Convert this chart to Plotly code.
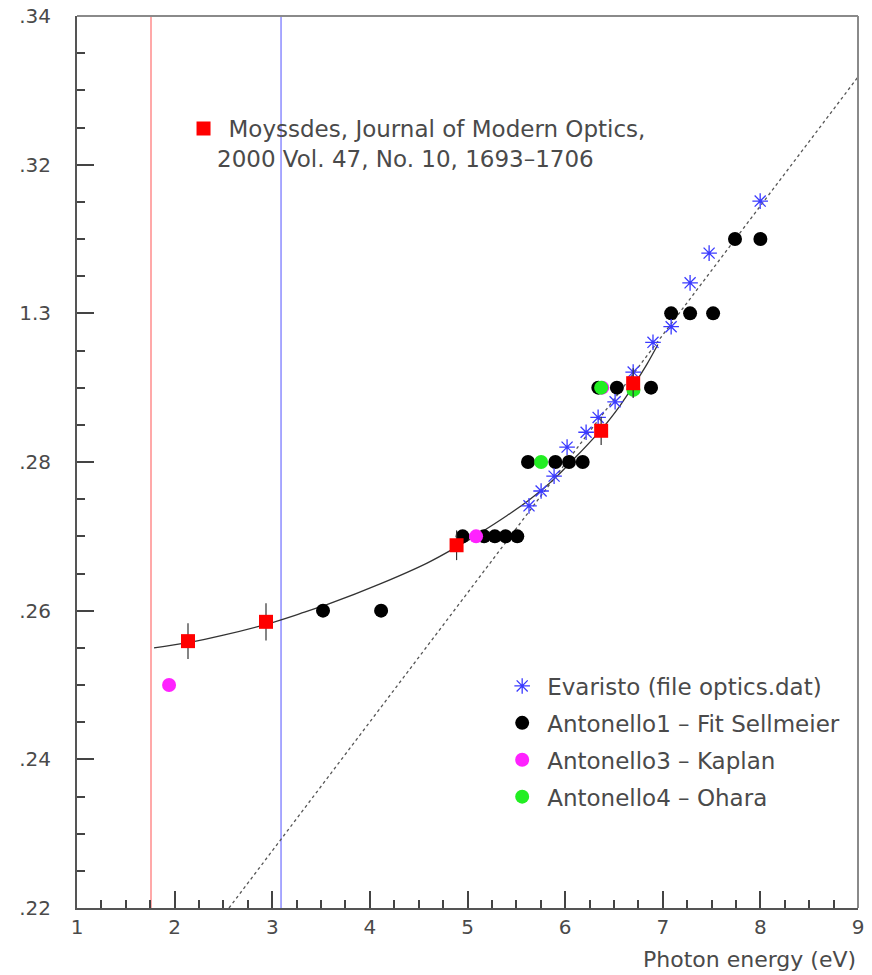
import plotly.graph_objects as go

# ---------------- data ----------------
moy_x = [2.137, 2.936, 4.888, 6.369, 6.697]
moy_y = [1.2559, 1.2585, 1.2688, 1.2842, 1.2906]
moy_err = [0.0024, 0.0025, 0.0020, 0.0019, 0.0020]

evar_x = [5.63, 5.754, 5.887, 6.02, 6.215, 6.338, 6.512, 6.697, 6.90, 7.086, 7.28, 7.475, 7.998]
evar_y = [1.2741, 1.2761, 1.2781, 1.2820, 1.2840, 1.2860, 1.2881, 1.2921, 1.2961, 1.2982, 1.3041, 1.3081, 1.3151]

ant1_x = [3.52, 4.115, 4.95, 5.17, 5.28, 5.39, 5.51, 5.62, 5.90, 6.04, 6.18,
          6.34, 6.53, 6.88, 7.086, 7.28, 7.516, 7.74, 8.0]
ant1_y = [1.26, 1.26, 1.27, 1.27, 1.27, 1.27, 1.27, 1.28, 1.28, 1.28, 1.28,
          1.29, 1.29, 1.29, 1.30, 1.30, 1.30, 1.31, 1.31]

ant3_x = [1.943, 5.088, 6.38]
ant3_y = [1.25, 1.27, 1.29]

ant4_x = [5.754, 6.369, 6.70]
ant4_y = [1.28, 1.29, 1.2897]

fit_x = [1.789, 2.137, 2.5, 2.947, 3.285, 3.6, 4.105, 4.586, 4.893, 5.098, 5.406,
         5.621, 5.775, 5.918, 6.082, 6.379, 6.563, 6.697, 6.84, 6.95]
fit_y = [1.2550, 1.2557, 1.2567, 1.2582, 1.2596, 1.2610, 1.2636, 1.2664, 1.2686, 1.2702, 1.2728,
         1.2748, 1.2764, 1.2781, 1.2803, 1.2845, 1.2876, 1.2902, 1.2932, 1.2958]

lin_x = [2.557, 9.0]
lin_y = [1.22, 1.3318]

vline_x = [1.758, 3.09]
vline_colors = ["#ff8c8c", "#8c8cff"]

ytick_vals = [1.22, 1.24, 1.26, 1.28, 1.30, 1.32, 1.34]
ytick_text = [".22", ".24", ".26", ".28", "1.3", ".32", ".34"]
xtick_vals = [1, 2, 3, 4, 5, 6, 7, 8, 9]

FONT = "DejaVu Sans, Verdana, sans-serif"
TXT = "#4a4a4a"

fig = go.Figure()

fig.add_trace(go.Scatter(x=lin_x, y=lin_y, mode="lines",
                         line=dict(color="#555555", width=1.3, dash="dot"),
                         showlegend=False, hoverinfo="skip"))
fig.add_trace(go.Scatter(x=fit_x, y=fit_y, mode="lines",
                         line=dict(color="#333333", width=1.3, shape="spline", smoothing=1),
                         showlegend=False, hoverinfo="skip"))

fig.add_trace(go.Scatter(x=ant1_x, y=ant1_y, mode="markers", name="Antonello1 \u2013 Fit Sellmeier",
                         marker=dict(symbol="circle", size=14, color="black"),
                         legendgroup="a1", legendrank=2))
fig.add_trace(go.Scatter(x=ant3_x, y=ant3_y, mode="markers", name="Antonello3 \u2013 Kaplan",
                         marker=dict(symbol="circle", size=14, color="#ff22ff"),
                         legendgroup="a3", legendrank=3))
fig.add_trace(go.Scatter(x=ant4_x, y=ant4_y, mode="markers", name="Antonello4 \u2013 Ohara",
                         marker=dict(symbol="circle", size=14, color="#22ee22"),
                         legendgroup="a4", legendrank=4))
fig.add_trace(go.Scatter(x=evar_x, y=evar_y, mode="markers", name="Evaristo (file optics.dat)",
                         marker=dict(symbol="asterisk-open", size=13, color="#3a3aff",
                                     line=dict(color="#3a3aff", width=1.3)),
                         legendgroup="ev", legendrank=1))
fig.add_trace(go.Scatter(x=moy_x, y=moy_y, mode="markers", name="Moyssdes, Journal of Modern Optics,",
                         marker=dict(symbol="square", size=14, color="#ff0000"),
                         error_y=dict(type="data", array=moy_err, color="#333333",
                                      thickness=1.2, width=0),
                         legend="legend2"))

for vx, vc in zip(vline_x, vline_colors):
    fig.add_vline(x=vx, line=dict(color=vc, width=1.5), layer="below")

# top / right frame
fig.add_shape(type="line", xref="paper", yref="paper", x0=0, x1=1, y0=1, y1=1,
              line=dict(color="#8a8a8a", width=2))
fig.add_shape(type="line", xref="paper", yref="paper", x0=1, x1=1, y0=0, y1=1,
              line=dict(color="#8a8a8a", width=2))

fig.add_annotation(text="2000 Vol. 47, No. 10, 1693\u20131706", xref="paper", yref="paper",
                   x=0.177, y=0.84, xanchor="left", yanchor="middle", showarrow=False,
                   font=dict(family=FONT, size=23, color=TXT))
fig.add_annotation(text="Photon energy (eV)", xref="paper", yref="paper",
                   x=1.0, y=-0.058, xanchor="right", yanchor="middle", showarrow=False,
                   font=dict(family=FONT, size=22, color=TXT))

fig.update_layout(
    width=872, height=975,
    margin=dict(l=77, r=14, t=16, b=67),
    paper_bgcolor="white", plot_bgcolor="white",
    font=dict(family=FONT, size=20, color=TXT),
    legend=dict(x=0.538, y=0.273, xanchor="left", yanchor="top",
                bgcolor="rgba(0,0,0,0)", tracegroupgap=4, itemwidth=40,
                font=dict(family=FONT, size=23, color=TXT)),
    legend2=dict(x=0.130, y=0.898, xanchor="left", yanchor="top",
                 bgcolor="rgba(0,0,0,0)", itemwidth=40,
                 font=dict(family=FONT, size=23, color=TXT)),
    xaxis=dict(range=[1, 9], tickvals=xtick_vals, ticks="inside", ticklen=17,
               tickwidth=1.5, tickcolor="#444", showgrid=False, zeroline=False,
               showline=True, linecolor="#555", linewidth=2, automargin=False,
               tickfont=dict(family=FONT, size=20, color=TXT),
               minor=dict(dtick=0.25, ticks="inside", ticklen=8, tickcolor="#444",
                          showgrid=False)),
    yaxis=dict(range=[1.22, 1.34], tickvals=ytick_vals, ticktext=ytick_text,
               ticks="inside", ticklen=17, tickwidth=1.5, tickcolor="#444",
               showgrid=False, zeroline=False, showline=True, linecolor="#555",
               linewidth=2, ticklabelstandoff=20, automargin=False,
               tickfont=dict(family=FONT, size=20, color=TXT),
               minor=dict(dtick=0.005, ticks="inside", ticklen=8, tickcolor="#444",
                          showgrid=False)),
)

fig.write_html("out.html")
